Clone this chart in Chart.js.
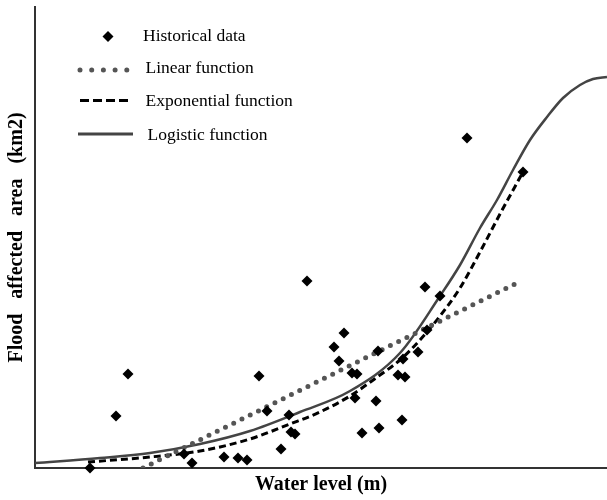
<!DOCTYPE html>
<html>
<head>
<meta charset="utf-8">
<script src="https://cdn.jsdelivr.net/npm/chart.js@4/dist/chart.umd.min.js"></script>
<style>
  html, body { margin: 0; padding: 0; background: #fff; }
  #wrap { width: 607px; height: 500px; }
</style>
</head>
<body>
<div id="wrap"><canvas id="floodChart"></canvas></div>
<script>
// historical observations (water level, flooded area) - arbitrary units, no ticks on the original
const histX = [55, 81, 93, 149, 157, 189, 203, 212, 224, 232, 246, 254, 256, 260, 272, 299, 304, 309,
               317, 322, 320, 327, 341, 344, 343, 363, 370, 367, 368, 383, 392, 390, 405, 432, 488];
const histY = [0, 52, 94, 14, 5, 11, 10, 8, 92, 57, 19, 53, 36, 34, 187, 121, 107, 135,
               95, 94, 70, 35, 67, 40, 117, 93, 91, 48, 109, 116, 138, 181, 172, 330, 296];

// fitted curves
const linearX = [108, 486];
const linearY = [0, 187];

const expX = [53, 115, 165, 215, 255, 285, 315, 345, 365, 385, 405, 425, 445, 465, 488];
const expY = [6, 11, 17, 29, 44, 56, 72, 93, 108, 128, 152, 180, 216, 254, 296];

const logX = [0, 65, 115, 165, 215, 265, 315, 365, 405, 425, 445, 462, 478, 495, 512, 528, 545, 558, 572];
const logY = [5, 10, 15, 24, 37, 56, 77, 115, 172, 203, 240, 268, 298, 328, 351, 370, 383, 389, 391];

const legendLabels = ['Historical data', 'Linear function', 'Exponential function', 'Logistic function'];

function toPoints(xs, ys) {
  return xs.map((x, i) => ({ x: x, y: ys[i] }));
}

// legend drawn inside the plot, top left
const insideLegend = {
  id: 'insideLegend',
  afterDraw(chart) {
    const ctx = chart.ctx;
    ctx.save();
    ctx.font = '17.5px "Liberation Serif", "Times New Roman", serif';
    ctx.fillStyle = '#000';
    ctx.textBaseline = 'middle';

    // diamond
    ctx.beginPath();
    ctx.moveTo(108, 31); ctx.lineTo(113.5, 36.5); ctx.lineTo(108, 42); ctx.lineTo(102.5, 36.5);
    ctx.closePath();
    ctx.fill();
    ctx.fillText(legendLabels[0], 143, 36);

    // dotted
    ctx.strokeStyle = '#555';
    ctx.lineWidth = 5;
    ctx.lineCap = 'round';
    ctx.setLineDash([0, 11.7]);
    ctx.beginPath(); ctx.moveTo(80, 70); ctx.lineTo(128, 70); ctx.stroke();
    ctx.fillText(legendLabels[1], 145.5, 68);

    // dashed
    ctx.strokeStyle = '#000';
    ctx.lineWidth = 3;
    ctx.lineCap = 'butt';
    ctx.setLineDash([9, 4]);
    ctx.beginPath(); ctx.moveTo(80, 100.5); ctx.lineTo(128, 100.5); ctx.stroke();
    ctx.fillText(legendLabels[2], 145.5, 101);

    // solid
    ctx.strokeStyle = '#444';
    ctx.setLineDash([]);
    ctx.beginPath(); ctx.moveTo(78, 134); ctx.lineTo(133, 134); ctx.stroke();
    ctx.fillText(legendLabels[3], 147.5, 135);
    ctx.restore();
  }
};

const titleFont = { family: '"Liberation Serif", "Times New Roman", serif', size: 20, weight: 'bold' };

new Chart(document.getElementById('floodChart'), {
  type: 'scatter',
  data: {
    datasets: [
      {
        label: legendLabels[0],
        data: toPoints(histX, histY),
        pointStyle: 'rectRot',
        pointRadius: 5.5,
        backgroundColor: '#000',
        borderColor: '#000',
        borderWidth: 0,
        clip: false
      },
      {
        label: legendLabels[1],
        type: 'line',
        data: toPoints(linearX, linearY),
        borderColor: '#555',
        borderWidth: 5,
        borderCapStyle: 'round',
        borderDash: [0, 9.2],
        pointRadius: 0,
        fill: false
      },
      {
        label: legendLabels[2],
        type: 'line',
        data: toPoints(expX, expY),
        borderColor: '#000',
        borderWidth: 3,
        borderDash: [7, 4],
        cubicInterpolationMode: 'monotone',
        pointRadius: 0,
        fill: false
      },
      {
        label: legendLabels[3],
        type: 'line',
        data: toPoints(logX, logY),
        borderColor: '#444',
        borderWidth: 2.5,
        cubicInterpolationMode: 'monotone',
        pointRadius: 0,
        fill: false
      }
    ]
  },
  options: {
    responsive: true,
    maintainAspectRatio: false,
    animation: false,
    layout: { autoPadding: false, padding: { top: 7, right: 0, left: 0, bottom: 0 } },
    plugins: {
      legend: { display: false },
      tooltip: { enabled: false }
    },
    scales: {
      x: {
        type: 'linear',
        min: 0,
        max: 572,
        ticks: { display: false },
        grid: { display: false, drawTicks: false },
        border: { display: true, color: '#333', width: 2 },
        title: { display: true, text: 'Water level (m)', color: '#000', font: titleFont, padding: { top: 5, bottom: 3 } }
      },
      y: {
        type: 'linear',
        min: 0,
        max: 461,
        ticks: { display: false },
        grid: { display: false, drawTicks: false },
        border: { display: true, color: '#333', width: 2 },
        title: { display: true, text: 'Flood   affected   area   (km2)', color: '#000', font: titleFont, padding: { top: 5, bottom: 6 } }
      }
    }
  },
  plugins: [insideLegend]
});
</script>
</body>
</html>
